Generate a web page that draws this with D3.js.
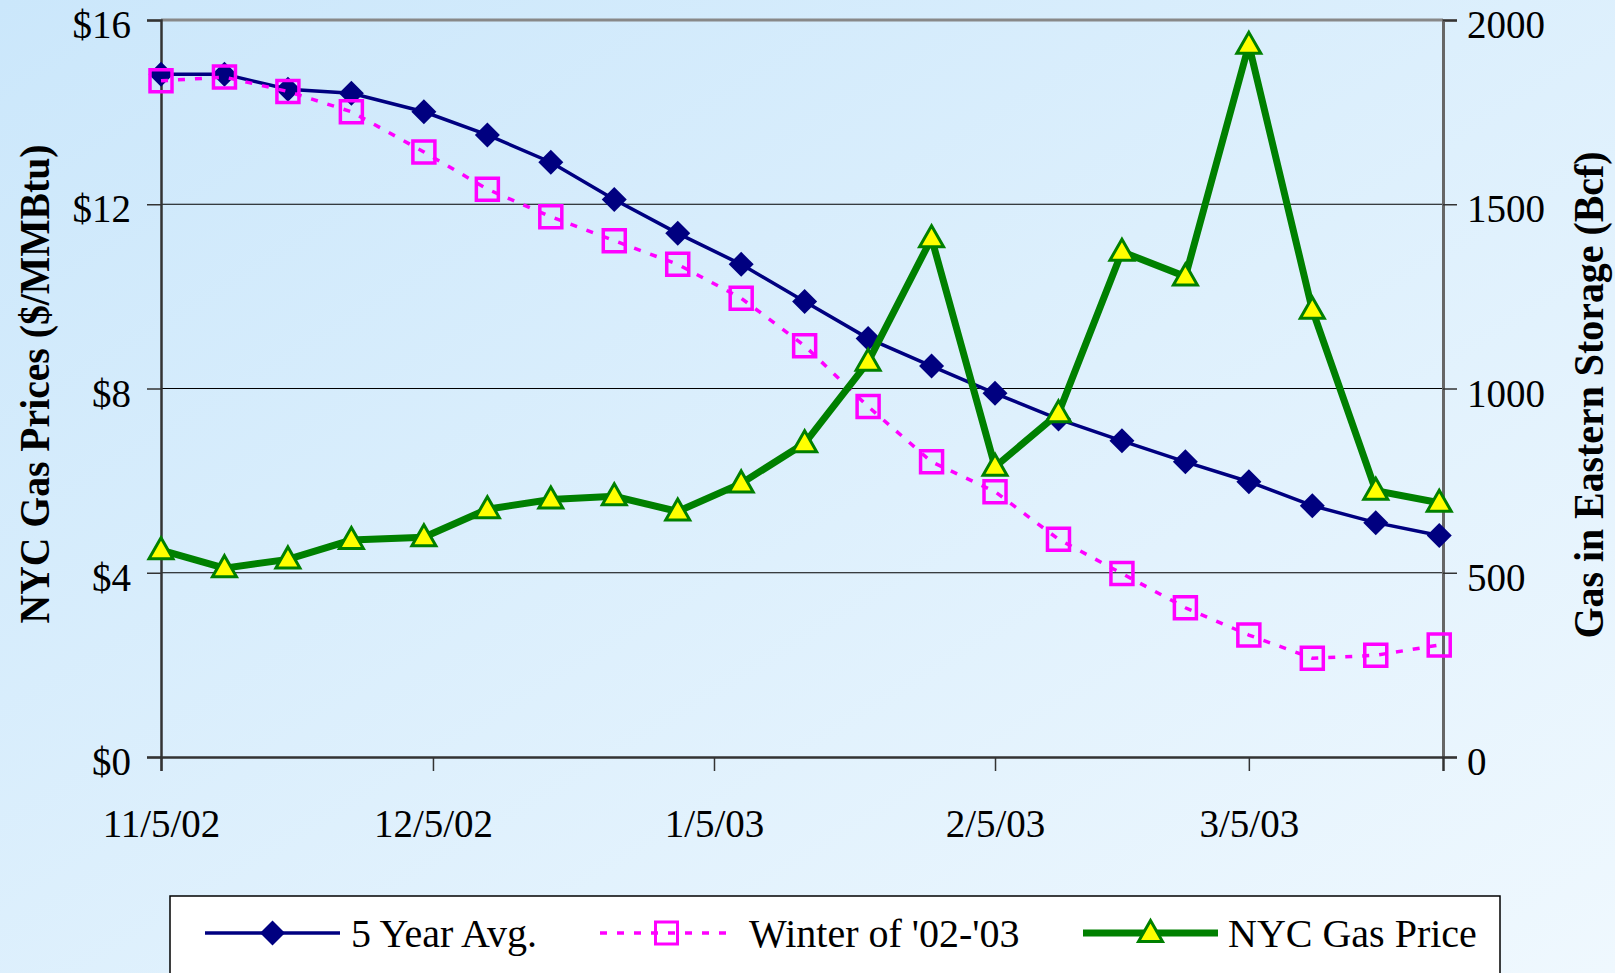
<!DOCTYPE html>
<html>
<head>
<meta charset="utf-8">
<script src="https://cdn.jsdelivr.net/npm/d3@7"></script>
<style>
  html, body { margin: 0; padding: 0; overflow: hidden; }
  svg { display: block; }
</style>
</head>
<body>
<script>
// ---------- data ----------
const dates = ["2002-11-05","2002-11-12","2002-11-19","2002-11-26","2002-12-04","2002-12-11","2002-12-18",
  "2002-12-25","2003-01-01","2003-01-08","2003-01-15","2003-01-22","2003-01-29","2003-02-05","2003-02-12",
  "2003-02-19","2003-02-26","2003-03-05","2003-03-12","2003-03-19","2003-03-26"];
const fiveYearAvg = [1853,1853,1812,1801,1751,1688,1614,1513,1421,1337,1236,1136,1061,987,917,858,801,747,682,636,601];
const winter0203  = [1835,1845,1806,1751,1642,1541,1466,1401,1337,1245,1116,951,801,720,591,498,405,331,268,276,304];
const nycPrice    = [4.49,4.10,4.29,4.71,4.77,5.38,5.59,5.66,5.33,5.94,6.81,8.58,11.26,6.30,7.46,10.97,10.43,15.46,9.71,5.78,5.52];
const xTickDates  = ["2002-11-05","2002-12-05","2003-01-05","2003-02-05","2003-03-05"];
const xTickLabels = ["11/5/02","12/5/02","1/5/03","2/5/03","3/5/03"];
const priceTicks  = [0,4,8,12,16];
const storageTicks = [0,500,1000,1500,2000];
const seriesNames = ["5 Year Avg.","Winter of '02-'03","NYC Gas Price"];

// ---------- setup ----------
const W = 1615, H = 973;
const L = 161, R = 1443, T = 20, B = 757;
const parse = d3.timeParse("%Y-%m-%d");
const xDates = dates.map(parse);

const svg = d3.select("body").append("svg").attr("width", W).attr("height", H);
const defs = svg.append("defs");
const grad = defs.append("linearGradient").attr("id","bg").attr("x1","0").attr("y1","0").attr("x2","1").attr("y2","1");
grad.append("stop").attr("offset","0").attr("stop-color","#cbe7fb");
grad.append("stop").attr("offset","1").attr("stop-color","#eff8fe");
svg.append("rect").attr("width",W).attr("height",H).attr("fill","url(#bg)");

const x = d3.scaleTime().domain([parse("2002-11-05"), new Date(2003,2,26,10)]).range([L,R]);
const yP = d3.scaleLinear().domain([0,16]).range([B,T]);
const yS = d3.scaleLinear().domain([0,2000]).range([B,T]);

const FONT = "'Liberation Serif','Times New Roman',serif";

// gridlines
svg.append("g").selectAll("line").data(priceTicks.filter(d => d > 0 && d < 16)).join("line")
  .attr("x1",L).attr("x2",R).attr("y1",d=>yP(d)).attr("y2",d=>yP(d))
  .attr("stroke","#000").attr("stroke-width",1.2);
// top border
svg.append("line").attr("x1",L).attr("x2",R).attr("y1",T).attr("y2",T).attr("stroke","#888").attr("stroke-width",3);

// left axis
const axL = svg.append("g").attr("transform",`translate(${L},0)`)
  .call(d3.axisLeft(yP).tickValues(priceTicks).tickFormat(d=>"$"+d).tickSize(14).tickPadding(16));
axL.select(".domain").attr("stroke","#333").attr("stroke-width",2.5);
axL.selectAll(".tick line").attr("stroke","#333").attr("stroke-width",1.5);
axL.selectAll(".tick text").attr("font-family",FONT).attr("font-size",39).attr("fill","#000").attr("dy","0.45em");

// right axis
const axR = svg.append("g").attr("transform",`translate(${R},0)`)
  .call(d3.axisRight(yS).tickValues(storageTicks).tickFormat(d=>d).tickSize(14).tickPadding(10));
axR.select(".domain").attr("stroke","#666").attr("stroke-width",3);
axR.selectAll(".tick line").attr("stroke","#333").attr("stroke-width",1.5);
axR.selectAll(".tick text").attr("font-family",FONT).attr("font-size",39).attr("fill","#000").attr("dy","0.45em");

// bottom axis
const axB = svg.append("g").attr("transform",`translate(0,${B})`)
  .call(d3.axisBottom(x).tickValues(xTickDates.map(parse)).tickFormat((d,i)=>xTickLabels[i]).tickSize(14).tickPadding(38));
axB.select(".domain").attr("stroke","#333").attr("stroke-width",2.5);
axB.selectAll(".tick line").attr("stroke","#333").attr("stroke-width",1.5);
axB.selectAll(".tick text").attr("font-family",FONT).attr("font-size",39).attr("fill","#000");

// axis titles
svg.append("text").attr("transform","translate(34,384) rotate(-90)")
  .attr("text-anchor","middle").attr("dy","0.35em")
  .attr("font-family",FONT).attr("font-weight","bold").attr("font-size",43)
  .attr("textLength",479).attr("lengthAdjust","spacingAndGlyphs")
  .text("NYC Gas Prices ($/MMBtu)");
svg.append("text").attr("transform","translate(1588,395) rotate(-90)")
  .attr("text-anchor","middle").attr("dy","0.35em")
  .attr("font-family",FONT).attr("font-weight","bold").attr("font-size",43)
  .attr("textLength",487).attr("lengthAdjust","spacingAndGlyphs")
  .text("Gas in Eastern Storage (Bcf)");

// symbols
const diamond = { draw(ctx){ ctx.moveTo(0,-12.5); ctx.lineTo(12.5,0); ctx.lineTo(0,12.5); ctx.lineTo(-12.5,0); ctx.closePath(); } };
const square  = { draw(ctx){ ctx.rect(-11,-11,22,22); } };
const triangle = { draw(ctx){ ctx.moveTo(0,-12.5); ctx.lineTo(12,8.5); ctx.lineTo(-12,8.5); ctx.closePath(); } };

// series
const s1 = xDates.map((d,i)=>[x(d), yS(fiveYearAvg[i])]);
const s2 = xDates.map((d,i)=>[x(d), yS(winter0203[i])]);
const s3 = xDates.map((d,i)=>[x(d), yP(nycPrice[i])]);
const line = d3.line();

svg.append("path").attr("d",line(s1)).attr("fill","none").attr("stroke","#000080").attr("stroke-width",3.5);
svg.append("g").selectAll("path").data(s1).join("path")
  .attr("transform",d=>`translate(${d[0]},${d[1]})`).attr("d",d3.symbol(diamond)()).attr("fill","#000080");

svg.append("path").attr("d",line(s2)).attr("fill","none").attr("stroke","#ff00ff").attr("stroke-width",3.5)
  .attr("stroke-dasharray","7 10");
svg.append("g").selectAll("path").data(s2).join("path")
  .attr("transform",d=>`translate(${d[0]},${d[1]})`).attr("d",d3.symbol(square)())
  .attr("fill","none").attr("stroke","#ff00ff").attr("stroke-width",3.5);

svg.append("path").attr("d",line(s3)).attr("fill","none").attr("stroke","#008000").attr("stroke-width",7)
  .attr("stroke-linejoin","miter");
svg.append("g").selectAll("path").data(s3).join("path")
  .attr("transform",d=>`translate(${d[0]},${d[1]})`).attr("d",d3.symbol(triangle)())
  .attr("fill","#ffff00").attr("stroke","#008000").attr("stroke-width",3).attr("stroke-linejoin","miter");

// legend
const lg = svg.append("g");
lg.append("rect").attr("x",170).attr("y",896).attr("width",1330).attr("height",120)
  .attr("fill","#fff").attr("stroke","#000").attr("stroke-width",1.5);
const LY = 933;
const legendItems = [
  {name:seriesNames[0], x0:205, x1:340, tx:351, color:"#000080", w:3.5, dash:null, sym:diamond, fill:"#000080", stroke:"none"},
  {name:seriesNames[1], x0:600, x1:733, tx:749, color:"#ff00ff", w:3.5, dash:"7 10", sym:square, fill:"none", stroke:"#ff00ff"},
  {name:seriesNames[2], x0:1083, x1:1218, tx:1228, color:"#008000", w:7, dash:null, sym:triangle, fill:"#ffff00", stroke:"#008000"}
];
legendItems.forEach(it=>{
  lg.append("line").attr("x1",it.x0).attr("x2",it.x1).attr("y1",LY).attr("y2",LY)
    .attr("stroke",it.color).attr("stroke-width",it.w).attr("stroke-dasharray",it.dash);
  lg.append("path").attr("transform",`translate(${(it.x0+it.x1)/2},${LY})`).attr("d",d3.symbol(it.sym)())
    .attr("fill",it.fill).attr("stroke",it.stroke).attr("stroke-width",3);
  lg.append("text").attr("x",it.tx).attr("y",LY).attr("dy","0.35em")
    .attr("font-family",FONT).attr("font-size",40).text(it.name);
});
</script>
</body>
</html>
